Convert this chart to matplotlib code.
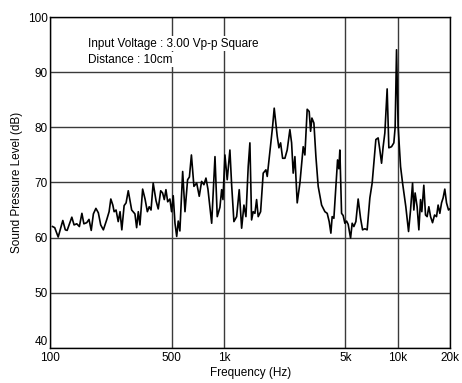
import matplotlib
matplotlib.use("Agg")
import matplotlib.pyplot as plt
from matplotlib.ticker import FixedLocator, NullLocator

plt.rcParams['font.family'] = ['Liberation Sans', 'DejaVu Sans']

freq_hz = [103, 106, 111, 118, 122, 125, 133, 137, 142, 147, 152, 156, 162, 167, 172, 177,
           183, 189, 195, 202, 211, 218, 223, 229, 233, 239, 246, 252, 258, 266, 273, 281,
           294, 307, 314, 321, 328, 340, 351, 362, 371, 380, 391, 406, 418, 432, 443, 453,
           463, 474, 488, 499, 510, 522, 534, 545, 557, 578, 596, 617, 632, 649, 671, 696,
           720, 743, 766, 787, 808, 849, 887, 914, 947, 969, 986, 1012, 1043, 1081, 1106,
           1140, 1182, 1223, 1263, 1302, 1337, 1378, 1409, 1441, 1472, 1506, 1540, 1573,
           1624, 1681, 1742, 1773, 1837, 1904, 1945, 2024, 2070, 2117, 2174, 2241, 2310,
           2394, 2449, 2501, 2559, 2638, 2734, 2856, 2921, 3011, 3092, 3150, 3205, 3291,
           3380, 3484, 3645, 3808, 3926, 4031, 4122, 4193, 4289, 4445, 4504, 4582, 4643,
           4749, 4851, 4962, 5075, 5184, 5351, 5466, 5590, 5741, 5918, 6109, 6274, 6468,
           6667, 6910, 7124, 7286, 7482, 7713, 7889, 8069, 8241, 8429, 8690, 8888, 9210,
           9497, 9661, 9842, 10050, 10380, 10660, 11130, 11540, 11850, 12170, 12380, 12590,
           12930, 13230, 13530, 13760, 14130, 14450, 14760, 15100, 15450, 15860, 16290,
           16720, 17080, 17470, 17870, 18250, 18660, 19090, 19600, 19940]

spl_db = [62.0, 61.8, 60.1, 63.1, 61.4, 61.3, 63.7, 62.3, 62.5, 62.0, 64.4, 62.5, 62.7, 63.3,
          61.3, 64.3, 65.3, 64.5, 62.3, 61.4, 63.2, 64.7, 67.0, 65.9, 64.7, 65.0, 62.9, 64.7,
          61.4, 65.8, 66.3, 68.5, 65.0, 64.3, 61.8, 64.7, 62.3, 68.8, 67.0, 64.7, 65.6, 65.0,
          69.9, 66.7, 65.2, 68.5, 68.1, 66.9, 68.7, 66.5, 67.0, 64.7, 67.6, 62.6, 60.2, 63.0,
          61.2, 72.0, 64.7, 70.5, 71.0, 75.0, 69.3, 69.9, 67.5, 70.2, 69.6, 70.8, 68.8, 62.6,
          74.7, 63.8, 65.5, 68.7, 66.9, 75.0, 70.5, 75.9, 69.6, 62.9, 63.8, 68.7, 61.7, 65.9,
          63.8, 72.9, 77.2, 63.2, 64.7, 64.4, 66.9, 63.8, 64.7, 71.7, 72.3, 71.1, 75.6, 80.2,
          83.5, 78.4, 76.3, 77.2, 74.4, 74.4, 75.9, 79.6, 77.2, 71.7, 74.7, 66.3, 69.9, 76.5,
          75.0, 83.3, 82.9, 79.3, 81.7, 80.8, 74.7, 69.3, 65.9, 64.7, 64.4, 62.9, 60.8, 63.8,
          63.5, 71.1, 74.1, 72.5, 75.9, 64.4, 64.0, 62.6, 63.0, 62.4, 59.9, 62.6, 62.0, 62.9,
          67.0, 63.5, 61.4, 61.6, 61.4, 67.2, 69.9, 73.5, 77.8, 78.1, 75.9, 73.5, 76.5, 79.0,
          87.0, 76.3, 76.5, 77.2, 80.0, 94.1, 80.2, 72.9, 69.9, 65.6, 61.1, 65.0, 69.9, 65.0,
          68.1, 65.6, 61.4, 66.9, 64.7, 69.5, 64.1, 63.8, 65.6, 63.8, 62.7, 64.1, 63.8, 65.9,
          64.4, 66.3, 67.2, 68.8, 66.3, 65.0, 65.2]

x_ticks = [100, 500, 1000, 5000, 10000, 20000]
x_tick_labels = ['100', '500', '1k', '5k', '10k', '20k']
y_ticks = [40, 50, 60, 70, 80, 90, 100]
y_tick_labels = ['40', '50', '60', '70', '80', '90', '100']

fig = plt.figure(figsize=(4.62, 3.83), dpi=100)
ax = fig.add_axes([0.1089, 0.0922, 0.8652, 0.8626])

ax.plot(freq_hz, spl_db, color='black', lw=1.2, zorder=3)

ax.set_xscale('log')
ax.set_xlim(100, 20000)
ax.set_ylim(40, 100)
ax.xaxis.set_major_locator(FixedLocator(x_ticks))
ax.xaxis.set_minor_locator(NullLocator())
ax.set_xticklabels(x_tick_labels)
ax.set_yticks(y_ticks)
ax.set_yticklabels(y_tick_labels)
ax.tick_params(length=0, labelsize=8.5, pad=3)
ax.tick_params(axis='y', pad=2)

ax.grid(True, which='major', color='#3a3a3a', lw=1.0, zorder=1)
for s in ax.spines.values():
    s.set_color('black')
    s.set_linewidth(1.0)

# lift the bottom y label above the axis line as in the reference
ylabels = ax.get_yticklabels()
ylabels[0].set_verticalalignment('bottom')

ax.set_xlabel('Frequency (Hz)', fontsize=8.5)
ax.xaxis.set_label_coords(0.5, -0.058)
ax.set_ylabel('Sound Pressure Level (dB)', fontsize=8.5)
ax.yaxis.set_label_coords(-0.068, 0.5)

box = dict(facecolor='white', edgecolor='none', pad=1.0)
ax.text(0.0943, 0.911, 'Input Voltage : 3.00 Vp-p Square', transform=ax.transAxes,
        fontsize=8.5, va='baseline', ha='left', bbox=box, zorder=4)
ax.text(0.0943, 0.8626, 'Distance : 10cm', transform=ax.transAxes,
        fontsize=8.5, va='baseline', ha='left', bbox=box, zorder=4)

fig.savefig('out.png', dpi=100)
